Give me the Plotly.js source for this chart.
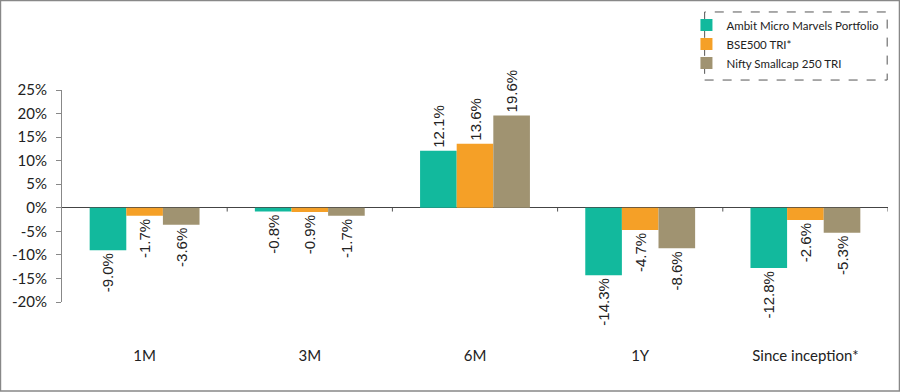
<!DOCTYPE html>
<html>
<head>
<meta charset="utf-8">
<script src="https://cdn.plot.ly/plotly-3.0.1.min.js"></script>
<style>html,body{margin:0;padding:0;background:#fff;}#chart{width:900px;height:392px;}</style>
</head>
<body>
<div id="chart"></div>
<script>
const categories = ["1M", "3M", "6M", "1Y", "Since inception*"];
const seriesNames = ["Ambit Micro Marvels Portfolio", "BSE500 TRI*", "Nifty Smallcap 250 TRI"];
const ambit = [-9.0, -0.8, 12.1, -14.3, -12.8];
const bse500 = [-1.7, -0.9, 13.6, -4.7, -2.6];
const smallcap = [-3.6, -1.7, 19.6, -8.6, -5.3];
const yTickVals = [-20, -15, -10, -5, 0, 5, 10, 15, 20, 25];
const yTickText = ["-20%", "-15%", "-10%", "-5%", "0%", "5%", "10%", "15%", "20%", "25%"];

const colors = ["#12B99D", "#F5A027", "#A09371"];
const seriesData = [ambit, bse500, smallcap];

const traces = seriesData.map((vals, i) => ({
  type: "bar",
  name: seriesNames[i],
  x: categories,
  y: vals,
  marker: {color: colors[i], line: {width: 0}},
  text: vals.map(v => v.toFixed(1) + "%"),
  textposition: "outside",
  textangle: -90,
  constraintext: "none",
  cliponaxis: false,
  textfont: {family: "Liberation Sans, Arial, sans-serif", size: 15, color: "#222"},
  hoverinfo: "none"
}));

const shapes = [];
// category boundary ticks on the zero line
for (let i = 1; i <= categories.length; i++) {
  shapes.push({type: "line", xref: "x", yref: "y", x0: i - 0.5, x1: i - 0.5, y0: 0, y1: -0.8,
    line: {color: "#555", width: 1}});
}
// dashed legend box
shapes.push({type: "rect", xref: "paper", yref: "paper", x0: 0.778, x1: 0.999, y0: 1.047, y1: 1.368,
  line: {color: "#555", width: 1, dash: "dash"}, fillcolor: "rgba(0,0,0,0)"});
// outer frame
shapes.push({type: "rect", xref: "paper", yref: "paper", x0: -0.0745, x1: 1.0139, y0: -0.4198, y1: 1.4222,
  line: {color: "#888", width: 1.5}, fillcolor: "rgba(0,0,0,0)"});

const layout = {
  width: 900, height: 392,
  margin: {l: 62, r: 12, t: 90, b: 90, autoexpand: false},
  paper_bgcolor: "#fff", plot_bgcolor: "#fff",
  barmode: "group",
  bargap: 0.335,
  bargroupgap: 0,
  font: {family: "Lato, sans-serif", size: 14, color: "#222"},
  xaxis: {
    type: "category",
    showgrid: false, zeroline: false, showline: false,
    ticks: "", ticklabelstandoff: 43,
    tickfont: {family: "Lato, sans-serif", size: 15, color: "#222"},
    range: [-0.5, 4.5]
  },
  yaxis: {
    range: [-20, 25], tickvals: yTickVals, ticktext: yTickText,
    showgrid: false, zeroline: true, zerolinecolor: "#444", zerolinewidth: 1,
    showline: true, linecolor: "#888", linewidth: 1,
    ticks: "outside", ticklen: 5, tickcolor: "#888", ticklabelstandoff: 6,
    tickfont: {family: "Lato, sans-serif", size: 15, color: "#222"}
  },
  showlegend: true,
  legend: {
    x: 0.756, y: 1.375, xanchor: "left", yanchor: "top",
    bgcolor: "rgba(0,0,0,0)", borderwidth: 0,
    font: {family: "Lato, sans-serif", size: 11.5, color: "#222"},
    itemwidth: 30, tracegroupgap: 0,
    traceorder: "normal"
  },
  shapes: shapes
};

Plotly.newPlot("chart", traces, layout, {staticPlot: true});
</script>
</body>
</html>
